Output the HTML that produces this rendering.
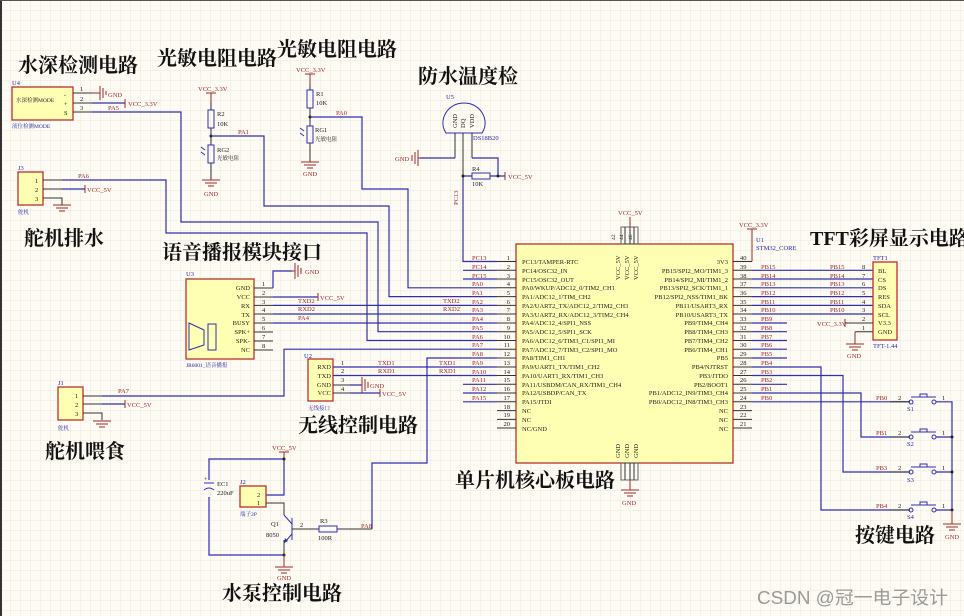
<!DOCTYPE html>
<html><head><meta charset="utf-8"><style>
html,body{margin:0;padding:0;background:#fdfbf3;}
svg{display:block}
.t{font-family:"Liberation Serif","Noto Serif CJK SC",serif;}
.h{font-family:"Liberation Serif","Noto Serif CJK SC",serif;font-size:20px;font-weight:bold;fill:#111}
.s{font-size:6.5px;fill:#222}
.r{font-size:6.5px;fill:#a0282a}
.b{font-size:6.5px;fill:#2828a8}
.w{stroke:#2f2fb0;stroke-width:1.2;fill:none}
.p{stroke:#333;stroke-width:1;fill:none}
.g{stroke:#a0282a;stroke-width:1;fill:none}
.box{fill:#ffffb4;stroke:#b8312f;stroke-width:1.3}
</style></head><body>
<svg width="964" height="616" viewBox="0 0 964 616" xmlns="http://www.w3.org/2000/svg" class="t">
<defs><pattern id="gr" width="10" height="10" patternUnits="userSpaceOnUse"><path d="M10 0H0V10" fill="none" stroke="#e6e2d4" stroke-width="0.7"/></pattern></defs>
<rect width="964" height="616" fill="#fdfbf3"/>
<rect width="964" height="616" fill="url(#gr)"/>
<rect x="0" y="0" width="2" height="616" fill="#333"/>
<rect x="0" y="0" width="964" height="1" fill="#555"/>

<!-- Titles -->
<text class="h" x="18" y="72">水深检测电路</text>
<text class="h" x="157" y="65">光敏电阻电路</text>
<text class="h" x="277" y="56">光敏电阻电路</text>
<text class="h" x="418" y="83">防水温度检</text>
<text class="h" x="24" y="245">舵机排水</text>
<text class="h" x="162" y="259">语音播报模块接口</text>
<text class="h" x="45" y="458">舵机喂食</text>
<text class="h" x="298" y="432">无线控制电路</text>
<text class="h" x="455" y="487">单片机核心板电路</text>
<text class="h" x="222" y="600">水泵控制电路</text>
<text class="h" x="810" y="245">TFT彩屏显示电路</text>
<text class="h" x="855" y="542">按键电路</text>

<!-- U4 water depth -->
<text class="b" x="12" y="85">U4</text>
<rect class="box" x="12" y="87" width="61" height="33"/>
<text class="s" x="16" y="102" style="font-size:5.5px">水深检测MODE</text>
<text class="s" x="64" y="97">-</text><text class="s" x="64" y="106">+</text><text class="s" x="64" y="115">S</text>
<path class="p" d="M73 93H92M73 103H92M73 112H92"/>
<text class="s" x="80" y="91">1</text><text class="s" x="80" y="101">2</text><text class="s" x="80" y="110">3</text>
<path class="w" d="M92 103H125"/>
<path class="g" d="M92 93H100M100 86V100M103 88V98M106 91V95M125 99V108"/>
<text class="r" x="108" y="97">GND</text>
<text class="r" x="128" y="106">VCC_3.3V</text>
<text class="r" x="108" y="110">PA5</text>
<text class="b" x="12" y="128" style="font-size:5.5px">液位检测MODE</text>
<path class="w" d="M92 112H181V222H378V331.7H497"/>

<!-- J3 -->
<text class="b" x="18" y="170">J3</text>
<rect class="box" x="18" y="172" width="25" height="33"/>
<text class="s" x="35" y="183">1</text><text class="s" x="35" y="192">2</text><text class="s" x="35" y="201">3</text>
<path class="p" d="M43 180H62M43 189H62M43 198H62V205"/>
<path class="g" d="M53 205h18M56 208h12M59 211h6M85 185V193"/>
<path class="w" d="M62 189H85"/>
<text class="r" x="87" y="192">VCC_5V</text>
<text class="r" x="78" y="178">PA6</text>
<text class="b" x="18" y="214" style="font-size:5.5px">舵机</text>
<path class="w" d="M62 180H166V233H367V340.5H497"/>

<!-- R2 / RG2 -->
<text class="r" x="198" y="91">VCC_3.3V</text>
<path class="g" d="M211 93V102M206 93H216"/>
<path class="p" d="M211 102V110M211 128V145M211 163V180"/>
<rect x="208" y="110" width="6" height="18" fill="none" stroke="#2f2fb0"/>
<rect x="208" y="145" width="6" height="18" fill="none" stroke="#2f2fb0"/>
<text class="s" x="217" y="116">R2</text><text class="s" x="217" y="126">10K</text>
<text class="s" x="217" y="152">RG2</text><text class="s" x="217" y="160" style="font-size:5.5px">光敏电阻</text>
<path d="M201 147l4 3M201 152l4 3" stroke="#2f2fb0"/>
<circle cx="211" cy="136" r="1.5" fill="#222"/>
<path class="g" d="M202 180h18M205 183h12M208 186h6"/>
<text class="r" x="204" y="196">GND</text>
<path class="w" d="M211 136H264V206H389V296.6H497"/>
<text class="r" x="238" y="134">PA1</text>

<!-- R1 / RG1 -->
<text class="r" x="296" y="72">VCC_3.3V</text>
<path class="g" d="M310 74V84M305 74H315"/>
<path class="p" d="M310 84V90M310 108V126M310 143V162"/>
<rect x="307" y="90" width="6" height="18" fill="none" stroke="#2f2fb0"/>
<rect x="307" y="126" width="6" height="17" fill="none" stroke="#2f2fb0"/>
<text class="s" x="316" y="96">R1</text><text class="s" x="316" y="105">10K</text>
<text class="s" x="315" y="132">RG1</text><text class="s" x="315" y="141" style="font-size:5.5px">光敏电阻</text>
<path d="M300 128l4 3M300 133l4 3" stroke="#2f2fb0"/>
<circle cx="310" cy="117" r="1.5" fill="#222"/>
<path class="g" d="M301 162h18M304 165h12M307 168h6"/>
<text class="r" x="303" y="176">GND</text>
<path class="w" d="M310 117H362V189H408V287.8H497"/>
<text class="r" x="336" y="115">PA0</text>

<!-- U5 DS18B20 -->
<text class="b" x="446" y="99">U5</text>
<path d="M446 133C438 122 446 103 464 103C482 103 490 122 482 133Z" fill="none" stroke="#2f2fb0"/>
<text class="s" transform="translate(457,128) rotate(-90)">GND</text>
<text class="s" transform="translate(465,128) rotate(-90)">DQ</text>
<text class="s" transform="translate(474,128) rotate(-90)">VDD</text>
<text class="b" x="473" y="140">DS18B20</text>
<path class="p" d="M455 133V158M463 133V176M472 133V158"/>
<path class="w" d="M455 158H420M472 158H498V176M463 176V261.5H497"/>
<path class="g" d="M420 158H418M418 150V166M415 152V164M412 155V161"/>
<text class="r" x="395" y="161">GND</text>
<rect x="472" y="173" width="18" height="6" fill="none" stroke="#2f2fb0"/>
<path class="w" d="M463 176H472M490 176H505"/>
<circle cx="463" cy="176" r="1.5" fill="#222"/><circle cx="498" cy="176" r="1.5" fill="#222"/>
<path class="g" d="M505 172V180"/>
<text class="r" x="508" y="179">VCC_5V</text>
<text class="s" x="472" y="171">R4</text><text class="s" x="472" y="186">10K</text>
<text class="r" transform="translate(458,205) rotate(-90)">PC13</text>

<!-- Voice U3 -->
<text class="b" x="186" y="276">U3</text>
<rect class="box" x="186" y="279" width="68" height="80"/>
<g class="s" text-anchor="end">
<text x="250" y="290">GND</text><text x="250" y="299">VCC</text><text x="250" y="308">RX</text><text x="250" y="317">TX</text><text x="250" y="325">BUSY</text><text x="250" y="334">SPK+</text><text x="250" y="343">SPK-</text><text x="250" y="352">NC</text>
</g>
<path class="p" d="M254 288H273M254 297H273M254 305.4H273M254 314H273M254 323H273M254 332H273M254 341H273M254 350H273"/>
<g class="s"><text x="262" y="286">1</text><text x="262" y="295">2</text><text x="262" y="304">3</text><text x="262" y="312">4</text><text x="262" y="321">5</text><text x="262" y="330">6</text><text x="262" y="339">7</text><text x="262" y="348">8</text></g>
<path d="M189 323L204 330V345L189 350Z" fill="none" stroke="#2f2fb0"/>
<rect x="208" y="324" width="8" height="26" fill="none" stroke="#2f2fb0"/>
<text class="b" x="186" y="367" style="font-size:5.5px">JR6001_语音播报</text>
<path class="w" d="M273 288V271H292M273 297H318"/>
<path class="g" d="M292 271H295M295 263V279M298 265V277M301 268V274M318 293V301"/>
<text class="r" x="305" y="274">GND</text>
<text class="r" x="320" y="300">VCC_5V</text>
<path class="w" d="M273 305.4H497M273 314H497M273 323H497"/>
<text class="r" x="298" y="303">TXD2</text><text class="r" x="298" y="311">RXD2</text><text class="r" x="298" y="320">PA4</text>
<text class="r" x="443" y="303">TXD2</text><text class="r" x="443" y="311">RXD2</text>

<!-- J1 feed -->
<text class="b" x="58" y="385">J1</text>
<rect class="box" x="58" y="387" width="25" height="33"/>
<text class="s" x="75" y="398">1</text><text class="s" x="75" y="407">2</text><text class="s" x="75" y="416">3</text>
<path class="p" d="M83 396H102M83 404H102M83 413H102V420"/>
<path class="w" d="M102 404H125M102 396H284V349.2H497"/>
<path class="g" d="M93 421h18M96 424h12M99 427h6M125 400V408"/>
<text class="r" x="127" y="407">VCC_5V</text>
<text class="r" x="118" y="393">PA7</text>
<text class="b" x="58" y="430" style="font-size:5.5px">舵机</text>

<!-- U2 wireless -->
<text class="b" x="304" y="358">U2</text>
<rect class="box" x="308" y="359" width="25" height="42"/>
<g class="s" text-anchor="end"><text x="331" y="369">RXD</text><text x="331" y="378">TXD</text><text x="331" y="387">GND</text><text x="331" y="395">VCC</text></g>
<path class="p" d="M333 385H350M333 393H350"/>
<path class="w" d="M333 367H497M333 375.5H497M350 385H362M350 393H380"/>
<g class="s"><text x="341" y="365">1</text><text x="341" y="373">2</text><text x="341" y="382">3</text><text x="341" y="391">4</text></g>
<path class="g" d="M362 377V393M365 379V391M368 382V388M380 389V397"/>
<text class="r" x="370" y="388">GND</text><text class="r" x="382" y="396">VCC_5V</text>
<text class="r" x="378" y="365">TXD1</text><text class="r" x="378" y="373">RXD1</text>
<text class="r" x="439" y="365">TXD1</text><text class="r" x="439" y="373">RXD1</text>
<text class="b" x="308" y="410" style="font-size:5.5px">无线接口</text>

<!-- Pump -->
<text class="r" x="272" y="450">VCC_5V</text>
<path class="g" d="M279 452H289M284 452V459"/>
<path class="w" d="M284 459H209V480M209 497V555H284M284 459V495H266"/>
<circle cx="284" cy="459" r="1.5" fill="#222"/><circle cx="284" cy="555" r="1.5" fill="#222"/>
<path d="M204 483H214M204 490Q209 486 214 490" fill="none" stroke="#2f2fb0"/>
<text class="s" x="204" y="481">+</text>
<text class="s" x="217" y="486">EC1</text><text class="s" x="217" y="495">220uF</text>
<text class="b" x="240" y="484">J2</text>
<rect class="box" x="240" y="486" width="26" height="21"/>
<text class="s" x="257" y="497">2</text><text class="s" x="257" y="505">1</text>
<path class="p" d="M266 503H284V515M284 540V555"/>
<text class="b" x="240" y="516" style="font-size:5.5px">端子2P</text>
<path d="M292 518V540M292 524L284 515M292 534L284 543" fill="none" stroke="#2f2fb0"/>
<path d="M284 543l1-5 3 3z" fill="#2f2fb0"/>
<path class="p" d="M292 529H319M337 529H372"/>
<rect x="319" y="526" width="18" height="6" fill="none" stroke="#2f2fb0"/>
<text class="s" x="271" y="526">Q1</text><text class="s" x="266" y="537">8050</text><text class="s" x="300" y="527">2</text>
<text class="s" x="320" y="523">R3</text><text class="s" x="318" y="540">100R</text>
<text class="r" x="361" y="528">PA8</text>
<path class="w" d="M372 529V463H427V358H497"/>
<path class="g" d="M275 567h18M278 570h12M281 573h6M284 555V567"/>
<text class="r" x="277" y="580">GND</text>

<!-- Chip -->
<rect class="box" x="516" y="244" width="217" height="219"/>
<rect x="621" y="227" width="17" height="17" fill="none" stroke="#666"/>
<rect x="621" y="463" width="17" height="17" fill="none" stroke="#666"/>
<path class="p" d="M625 227V244M630 227V244M634 227V244M625 463V480M630 463V480M634 463V480"/>
<text class="r" x="618" y="215">VCC_5V</text>
<path class="g" d="M630 217V227M630 490V480M621 490h18M624 493h12M627 496h6"/>
<text class="r" x="622" y="505">GND</text>
<g class="s" style="font-size:5.5px"><text transform="translate(615,240) rotate(-90)">42</text><text transform="translate(623,240) rotate(-90)">44</text><text transform="translate(632,240) rotate(-90)">46</text></g>
<g class="s"><text transform="translate(620,280) rotate(-90)">VCC_5V</text><text transform="translate(629,280) rotate(-90)">VCC_5V</text><text transform="translate(638,280) rotate(-90)">VCC_5V</text>
<text transform="translate(620,458) rotate(-90)">GND</text><text transform="translate(629,458) rotate(-90)">GND</text><text transform="translate(638,458) rotate(-90)">GND</text></g>
<text class="r" x="739" y="227">VCC_3.3V</text>
<path class="g" d="M747 229H757M752 229V261.5"/>
<text class="b" x="756" y="242">U1</text><text class="b" x="756" y="250">STM32_CORE</text>

<g class="s">
<text x="522" y="264">PC13/TAMPER-RTC</text><text x="522" y="273">PC14/OSC32_IN</text><text x="522" y="282">PC15/OSC32_OUT</text><text x="522" y="290">PA0/WKUP/ADC12_0/TIM2_CH1</text><text x="522" y="299">PA1/ADC12_1/TIM_CH2</text><text x="522" y="308">PA2/UART2_TX/ADC12_2/TIM2_CH3</text><text x="522" y="317">PA3/UART2_RX/ADC12_3/TIM2_CH4</text><text x="522" y="325">PA4/ADC12_4/SPI1_NSS</text><text x="522" y="334">PA5/ADC12_5/SPI1_SCK</text><text x="522" y="343">PA6/ADC12_6/TIM3_C1/SPI1_MI</text><text x="522" y="352">PA7/ADC12_7/TIM3_C2/SPI1_MO</text><text x="522" y="360">PA8/TIM1_CH1</text><text x="522" y="369">PA9/UART1_TX/TIM1_CH2</text><text x="522" y="378">PA10/UART1_RX/TIM1_CH3</text><text x="522" y="387">PA11/USBDM/CAN_RX/TIM1_CH4</text><text x="522" y="395">PA12/USBDP/CAN_TX</text><text x="522" y="404">PA15/JTDI</text><text x="522" y="413">NC</text><text x="522" y="422">NC</text><text x="522" y="431">NC/GND</text>
</g>
<g class="s" text-anchor="end">
<text x="728" y="264">3V3</text><text x="728" y="273">PB15/SPI2_MO/TIM1_3</text><text x="728" y="282">PB14/SPI2_MI/TIM1_2</text><text x="728" y="290">PB13/SPI2_SCK/TIM1_1</text><text x="728" y="299">PB12/SPI2_NSS/TIM1_BK</text><text x="728" y="308">PB11/USART3_RX</text><text x="728" y="317">PB10/USART3_TX</text><text x="728" y="325">PB9/TIM4_CH4</text><text x="728" y="334">PB8/TIM4_CH3</text><text x="728" y="343">PB7/TIM4_CH2</text><text x="728" y="352">PB6/TIM4_CH1</text><text x="728" y="360">PB5</text><text x="728" y="369">PB4/NJTRST</text><text x="728" y="378">PB3/JTDO</text><text x="728" y="387">PB2/BOOT1</text><text x="728" y="395">PB1/ADC12_IN9/TIM3_CH4</text><text x="728" y="404">PB0/ADC12_IN8/TIM3_CH3</text><text x="728" y="413">NC</text><text x="728" y="422">NC</text><text x="728" y="431">NC</text>
</g>
<!-- left pins -->
<path class="p" d="M497 261.5H516M497 270.3H516M497 279H516M497 287.8H516M497 296.6H516M497 305.4H516M497 314H516M497 323H516M497 331.7H516M497 340.5H516M497 349.2H516M497 358H516M497 367H516M497 375.5H516M497 384.3H516M497 393H516M497 401.8H516M497 410.6H516M497 419.4H516M497 428H516"/>
<path class="w" d="M463 270.3H497M463 279H497M463 384.3H497M463 393H497M463 401.8H497"/>
<g class="s" text-anchor="end"><text x="510" y="260">1</text><text x="510" y="269">2</text><text x="510" y="278">3</text><text x="510" y="286">4</text><text x="510" y="295">5</text><text x="510" y="304">6</text><text x="510" y="312">7</text><text x="510" y="321">8</text><text x="510" y="330">9</text><text x="510" y="339">10</text><text x="510" y="347">11</text><text x="510" y="356">12</text><text x="510" y="365">13</text><text x="510" y="374">14</text><text x="510" y="382">15</text><text x="510" y="391">16</text><text x="510" y="400">17</text><text x="510" y="409">18</text><text x="510" y="417">19</text><text x="510" y="426">20</text></g>
<g class="r"><text x="472" y="260">PC13</text><text x="472" y="269">PC14</text><text x="472" y="278">PC15</text><text x="472" y="286">PA0</text><text x="472" y="295">PA1</text><text x="472" y="304">PA2</text><text x="472" y="312">PA3</text><text x="472" y="321">PA4</text><text x="472" y="330">PA5</text><text x="472" y="339">PA6</text><text x="472" y="347">PA7</text><text x="472" y="356">PA8</text><text x="472" y="365">PA9</text><text x="472" y="374">PA10</text><text x="472" y="382">PA11</text><text x="472" y="391">PA12</text><text x="472" y="400">PA15</text></g>
<!-- right pins -->
<path class="p" d="M733 261.5H752M733 270.3H752M733 279H752M733 287.8H752M733 296.6H752M733 305.4H752M733 314H752M733 323H752M733 331.7H752M733 340.5H752M733 349.2H752M733 358H752M733 367H752M733 375.5H752M733 384.3H752M733 393H752M733 401.8H752M733 410.6H752M733 419.4H752M733 428H752"/>
<path class="w" d="M752 270.3H873M752 279H873M752 287.8H873M752 296.6H873M752 305.4H873M752 314H873M752 323H787M752 331.7H787M752 340.5H787M752 349.2H787M752 358H787M752 384.3H787"/>
<path class="w" d="M752 367H821V510H910M752 375.5H843V472H910M752 393H861V437H910M752 401.8H910"/>
<g class="s"><text x="740" y="260">40</text><text x="740" y="269">39</text><text x="740" y="278">38</text><text x="740" y="286">37</text><text x="740" y="295">36</text><text x="740" y="304">35</text><text x="740" y="312">34</text><text x="740" y="321">33</text><text x="740" y="330">32</text><text x="740" y="339">31</text><text x="740" y="347">30</text><text x="740" y="356">29</text><text x="740" y="365">28</text><text x="740" y="374">27</text><text x="740" y="382">26</text><text x="740" y="391">25</text><text x="740" y="400">24</text><text x="740" y="409">23</text><text x="740" y="417">22</text><text x="740" y="426">21</text></g>
<g class="r"><text x="761" y="269">PB15</text><text x="761" y="278">PB14</text><text x="761" y="286">PB13</text><text x="761" y="295">PB12</text><text x="761" y="304">PB11</text><text x="761" y="312">PB10</text><text x="761" y="321">PB9</text><text x="761" y="330">PB8</text><text x="761" y="339">PB7</text><text x="761" y="347">PB6</text><text x="761" y="356">PB5</text><text x="761" y="365">PB4</text><text x="761" y="374">PB3</text><text x="761" y="382">PB2</text><text x="761" y="391">PB1</text><text x="761" y="400">PB0</text>
<text x="830" y="269">PB15</text><text x="830" y="278">PB14</text><text x="830" y="286">PB13</text><text x="830" y="295">PB12</text><text x="830" y="304">PB11</text><text x="830" y="312">PB10</text></g>

<!-- TFT -->
<text class="b" x="873" y="260">TFT1</text>
<rect class="box" x="873" y="262" width="24" height="78"/>
<g class="s"><text x="878" y="273">BL</text><text x="878" y="282">CS</text><text x="878" y="290">DS</text><text x="878" y="299">RES</text><text x="878" y="308">SDA</text><text x="878" y="317">SCL</text><text x="878" y="325">V3.3</text><text x="878" y="334">GND</text>
<text x="862" y="269">8</text><text x="862" y="278">7</text><text x="862" y="286">6</text><text x="862" y="295">5</text><text x="862" y="304">4</text><text x="862" y="312">3</text><text x="862" y="321">2</text><text x="862" y="330">1</text></g>
<path class="p" d="M845 323H873M855 331.7H873"/>
<path class="g" d="M845 319V327M855 331.7V344M846 344h18M849 347h12M852 350h6"/>
<text class="r" x="817" y="326">VCC_3.3V</text>
<text class="r" x="847" y="358">GND</text>
<text class="b" x="873" y="348">TFT-1.44</text>

<!-- Buttons -->
<g>
<path class="p" d="M890 401.8H910M890 437H910M890 472H910M890 510H910"/>
<path class="w" d="M936 401.8H952V510M936 437H952M936 472H952M936 510H952"/>
<g fill="none" stroke="#2f2fb0">
<circle cx="911" cy="402" r="2"/><circle cx="934" cy="402" r="2"/><path d="M911 397H936M920 397V394H927V397"/>
<circle cx="911" cy="437" r="2"/><circle cx="934" cy="437" r="2"/><path d="M911 432H936M920 432V429H927V432"/>
<circle cx="911" cy="472" r="2"/><circle cx="934" cy="472" r="2"/><path d="M911 467H936M920 467V464H927V467"/>
<circle cx="911" cy="510" r="2"/><circle cx="934" cy="510" r="2"/><path d="M911 505H936M920 505V502H927V505"/>
</g>
<circle cx="952" cy="437" r="1.5" fill="#222"/><circle cx="952" cy="472" r="1.5" fill="#222"/><circle cx="952" cy="510" r="1.5" fill="#222"/>
<g class="r"><text x="876" y="400">PB0</text><text x="876" y="435">PB1</text><text x="876" y="470">PB3</text><text x="876" y="508">PB4</text></g>
<g class="s"><text x="898" y="400">2</text><text x="898" y="435">2</text><text x="898" y="470">2</text><text x="898" y="508">2</text><text x="942" y="400">1</text><text x="942" y="435">1</text><text x="942" y="470">1</text><text x="942" y="508">1</text></g>
<g class="b"><text x="907" y="411">S1</text><text x="907" y="446">S2</text><text x="907" y="482">S3</text><text x="907" y="519">S4</text></g>
<path class="g" d="M952 510V524M943 524h18M946 527h12M949 530h6"/>
<text class="r" x="945" y="539">GND</text>
</g>

<text x="757" y="604" textLength="191" lengthAdjust="spacingAndGlyphs" style="font-family:'Liberation Sans','Noto Sans CJK SC',sans-serif;font-size:18px;fill:#9a9a9a">CSDN @冠一电子设计</text>
</svg>
</body></html>
